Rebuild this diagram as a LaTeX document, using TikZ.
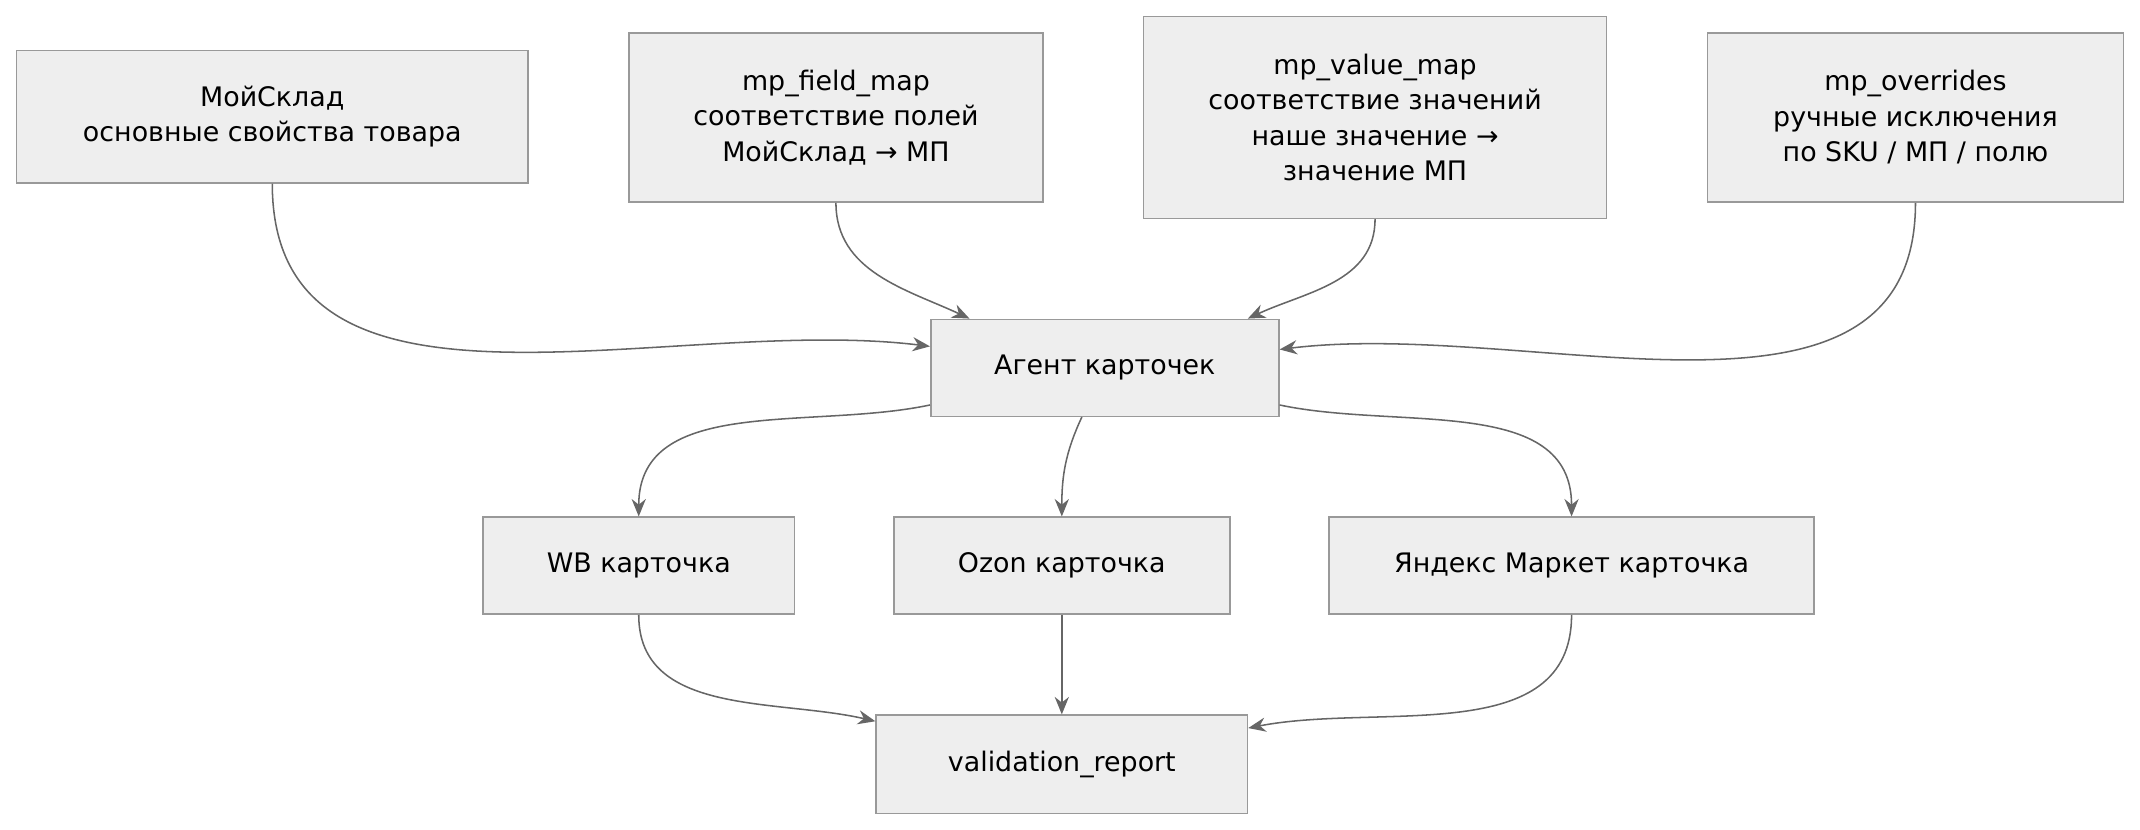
\documentclass[tikz,border=0pt]{standalone}
\usepackage{fontspec}
\setmainfont{DejaVu Sans}
\usetikzlibrary{arrows.meta}
\definecolor{boxfill}{HTML}{EEEEEE}
\definecolor{boxline}{HTML}{999999}
\definecolor{linkcol}{HTML}{666666}
\begin{document}
\begin{tikzpicture}[x=0.025cm,y=-0.025cm,
    box/.style={rectangle,draw=boxline,fill=boxfill,thick,align=center,
      inner sep=0pt,font=\fontsize{14}{18.5}\selectfont},
    link/.style={draw=linkcol,thick,-{Stealth[length=3.2mm,width=2.6mm]}}]
  \useasboundingbox (0,0) rectangle (1568,608);
  % source boxes
  \node[box,minimum width=9.375cm,minimum height=2.425cm] (moysklad) at (199.5,85.5) {МойСклад\\основные свойства товара};
  \node[box,minimum width=7.575cm,minimum height=3.1cm] (fieldmap) at (612.5,86) {mp\_field\_map\\соответствие полей\\МойСклад → МП};
  \node[box,minimum width=8.475cm,minimum height=3.7cm] (valuemap) at (1007.5,86) {mp\_value\_map\\соответствие значений\\наше значение →\\значение МП};
  \node[box,minimum width=7.625cm,minimum height=3.1cm] (overrides) at (1403.5,86) {mp\_overrides\\ручные исключения\\по SKU / МП / полю};
  % agent
  \node[box,minimum width=6.375cm,minimum height=1.775cm] (agent) at (809.5,269.5) {Агент карточек};
  % cards
  \node[box,minimum width=5.7cm,minimum height=1.775cm] (wb) at (468,414.5) {WB карточка};
  \node[box,minimum width=6.15cm,minimum height=1.775cm] (ozon) at (778,414.5) {Ozon карточка};
  \node[box,minimum width=8.875cm,minimum height=1.775cm] (ym) at (1151.5,414.5) {Яндекс Маркет карточка};
  \node[box,minimum width=6.8cm,minimum height=1.8cm] (report) at (778,560) {validation\_report};
  % links
  \draw[link] (moysklad.south) to[out=-90,in=173] (agent.173.5);
  \draw[link] (fieldmap.south) to[out=-90,in=155] (agent.160);
  \draw[link] (valuemap.south) to[out=-90,in=25] (agent.19.5);
  \draw[link] (overrides.south) to[out=-90,in=7] (agent.6.5);
  \draw[link] (agent.192) to[out=192,in=90] (wb.north);
  \draw[link] (agent.245) to[out=-115,in=90] (ozon.north);
  \draw[link] (agent.-12) to[out=-12,in=90] (ym.north);
  \draw[link] (wb.south) to[out=-90,in=167] (report.167);
  \draw[link] (ozon.south) -- (report.north);
  \draw[link] (ym.south) to[out=-90,in=11] (report.11);
\end{tikzpicture}
\end{document}
